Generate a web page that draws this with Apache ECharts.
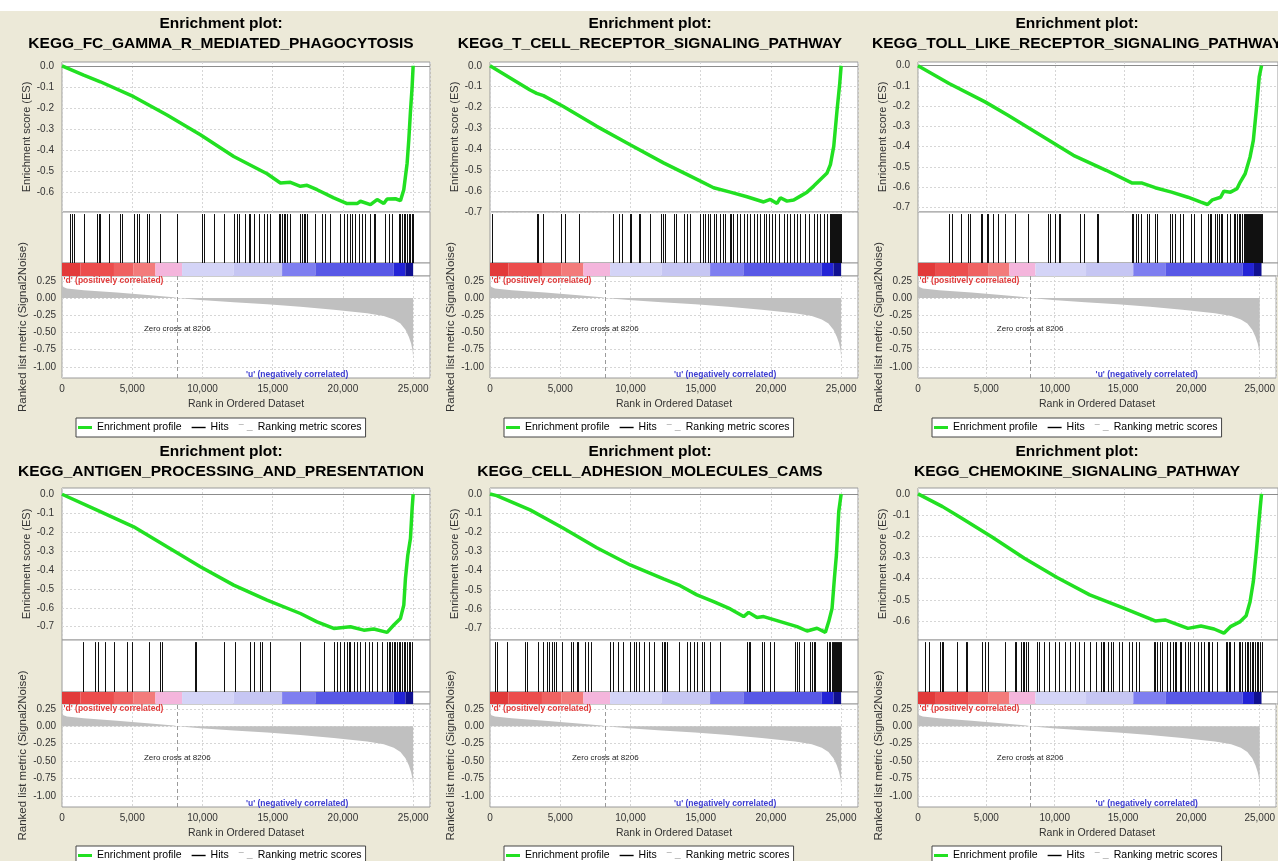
<!DOCTYPE html>
<html>
<head>
<meta charset="utf-8">
<script src="https://cdn.jsdelivr.net/npm/echarts@6/dist/echarts.min.js"></script>
<style>
html, body { margin: 0; padding: 0; background: #ece9d8; }
#main { width: 1278px; height: 861px; }
</style>
</head>
<body>
<div id="main"></div>
<script>
// gene set names, one per panel
var pathways = [
    'KEGG_FC_GAMMA_R_MEDIATED_PHAGOCYTOSIS',
    'KEGG_T_CELL_RECEPTOR_SIGNALING_PATHWAY',
    'KEGG_TOLL_LIKE_RECEPTOR_SIGNALING_PATHWAY',
    'KEGG_ANTIGEN_PROCESSING_AND_PRESENTATION',
    'KEGG_CELL_ADHESION_MOLECULES_CAMS',
    'KEGG_CHEMOKINE_SIGNALING_PATHWAY'
];

// ranked list metric (same ranked list for all panels)
var rankMetric = [[0,0.19],[100,0.16],[356,0.14],[1543,0.115],[3917,0.08],[6291,0.04],[7953,0.01],[8206,0],
    [9852,-0.03],[12226,-0.06],[14600,-0.09],[16974,-0.125],[19348,-0.17],[21722,-0.22],[22909,-0.26],
    [23622,-0.31],[24096,-0.37],[24452,-0.46],[24690,-0.56],[24856,-0.66],[24960,-0.76],[25000,-0.86]];
var zeroCross = 8206;

// colour bar blocks under the hits
var barEdges = [0, 1300, 3700, 5100, 6650, 8550, 12230, 15670, 18040, 23620, 24450, 25000];
var barColors = ['#e23a3a', '#ec4d4d', '#ef6262', '#f37b7b', '#f4b5dc', '#d4d4f7', '#c6c6f3', '#7e7ef0', '#5858e6', '#2323d6', '#101090'];

// enrichment score curves [rank, ES]
var es1 = [[0,0],[1543,-0.044],[2730,-0.076],[5104,-0.147],[7478,-0.234],[9852,-0.328],[12226,-0.431],[14600,-0.513],
    [15550,-0.557],[16262,-0.554],[16974,-0.573],[17449,-0.568],[18161,-0.589],[19348,-0.628],[20298,-0.655],[21010,-0.655],
    [21247,-0.644],[21960,-0.66],[22434,-0.636],[22909,-0.655],[23146,-0.633],[23740,-0.632],[24096,-0.641],[24334,-0.589],
    [24571,-0.463],[24690,-0.352],[24808,-0.218],[24927,-0.1],[25000,0]];
var es2 = [[0,0],[2851,-0.116],[3326,-0.132],[3802,-0.143],[5227,-0.195],[7603,-0.29],[9979,-0.378],[12355,-0.465],
    [14731,-0.544],[15920,-0.584],[17107,-0.605],[18295,-0.627],[19483,-0.652],[19958,-0.64],[20434,-0.659],[20672,-0.632],
    [21146,-0.648],[21622,-0.643],[22097,-0.624],[22572,-0.605],[23047,-0.576],[23522,-0.544],[23998,-0.513],[24235,-0.473],
    [24473,-0.386],[24710,-0.211],[24900,-0.084],[25000,0]];
var es3 = [[0,0],[2262,-0.088],[4881,-0.179],[6548,-0.245],[8929,-0.344],[11310,-0.443],[13691,-0.517],[15595,-0.58],
    [16310,-0.58],[17262,-0.603],[18453,-0.625],[19643,-0.65],[20595,-0.674],[21072,-0.686],[21429,-0.663],[22024,-0.65],
    [22262,-0.62],[22738,-0.625],[23214,-0.608],[23453,-0.575],[23810,-0.534],[24167,-0.451],[24405,-0.369],[24643,-0.203],
    [24833,-0.055],[25000,0]];
var es4 = [[0,0],[2493,-0.084],[5104,-0.172],[7478,-0.278],[9852,-0.383],[12226,-0.48],[14600,-0.559],[16974,-0.63],
    [18161,-0.674],[19348,-0.709],[20535,-0.7],[21485,-0.718],[22197,-0.712],[23146,-0.73],[23622,-0.691],[24096,-0.656],
    [24334,-0.586],[24452,-0.445],[24618,-0.322],[24808,-0.234],[24927,-0.076],[25000,0]];
var es5 = [[0,0],[475,-0.009],[2851,-0.083],[5227,-0.179],[7603,-0.28],[9979,-0.37],[12355,-0.443],[13543,-0.478],
    [14731,-0.526],[15920,-0.561],[17107,-0.599],[18058,-0.639],[18414,-0.617],[19008,-0.644],[19483,-0.639],[20672,-0.665],
    [21859,-0.691],[22572,-0.714],[23285,-0.7],[23879,-0.721],[24116,-0.665],[24354,-0.596],[24521,-0.439],[24663,-0.318],
    [24829,-0.092],[25000,0]];
var es6 = [[0,0],[1786,-0.06],[2976,-0.107],[5357,-0.202],[7738,-0.304],[10119,-0.395],[12500,-0.477],[14881,-0.537],
    [17262,-0.6],[17976,-0.595],[19643,-0.635],[20595,-0.624],[21548,-0.638],[22262,-0.658],[22738,-0.627],[23453,-0.603],
    [23881,-0.575],[24167,-0.509],[24405,-0.414],[24643,-0.257],[24833,-0.115],[25000,0]];

// hit positions (rank of each gene of the set)
var hits1 = [594,712,831,1543,2493,2611,2730,3324,4155,4273,5104,5342,5460,6054,6172,7003,8190,9971,10090,10802,11514,
    12226,12464,12582,13057,13294,13413,13651,14007,14363,14600,14838,15431,15550,15669,15787,15906,16025,16262,16974,
    17093,17212,17330,17449,18042,18517,18755,19111,19823,20060,20298,20535,20654,20891,21129,21366,21603,21960,22197,
    22316,23028,23265,23503,23977,24096,24215,24334,24452,24571,24690,24808,24927,25000];
var hits2 = [119,3326,3445,3802,5037,5346,6344,8744,9219,9385,9932,10050,10573,10692,11357,12165,12308,12427,13068,13258,
    13828,14018,14256,14969,15159,15325,15492,15682,15920,16109,16394,16584,16751,17060,17178,17297,17582,17820,18058,
    18295,18533,18770,19008,19246,19483,19673,19840,20077,20315,20552,20909,21146,21384,21622,21859,22097,22453,22691,
    23047,23285,23522,23760,23998,24235,24300,24380,24450,24520,24590,24660,24730,24800,24870,24940,25000];
var hits3 = [2262,2500,3095,3643,3810,4595,4690,5000,5119,5476,5786,6357,7024,7976,9453,9595,10000,10238,10357,11786,
    12072,13024,13096,15548,15643,15833,16024,16262,16667,16786,17214,17381,18333,18453,18691,19048,19286,19881,20119,
    20595,21119,21262,21357,21595,21786,21905,22024,22143,22500,22738,22976,23095,23214,23333,23453,23572,23691,23810,
    23880,23950,24020,24100,24170,24240,24310,24380,24450,24520,24590,24660,24730,24800,24870,24940,25000];
var hits4 = [1496,2374,2540,3086,3680,4629,4985,6172,7003,7122,9496,9567,11514,12345,13366,13651,14125,14244,14838,16974,
    18636,19348,19586,19823,20060,20298,20416,20535,20773,21010,21247,21603,21841,22078,22434,22790,23146,23265,23384,
    23503,23622,23740,23859,23977,24096,24215,24334,24452,24571,24690,24808,24927];
var hits5 = [356,475,1236,2495,2614,3445,3802,4039,4229,4396,4562,4704,5108,5750,5940,6178,6296,6772,7009,7176,8554,8744,
    9148,9456,9979,10217,10407,10573,10930,11286,11690,12236,12355,12474,12593,13424,14018,14208,14494,14731,15088,15254,
    15682,16394,18295,18414,18533,19364,19483,19958,20196,21740,21859,21978,22334,22810,22928,23047,23166,23998,24116,
    24235,24354,24420,24490,24560,24630,24700,24770,24840,24910,24980];
var hits6 = [476,833,1619,1738,1833,2857,3500,3571,4643,4881,5119,6357,7024,7143,7500,7619,7738,7857,7976,8690,8810,9167,
    9524,10000,10238,10714,11071,11429,11738,12072,12500,12929,13333,13452,13571,13810,14048,14214,14643,14881,15357,
    15595,15833,16071,17143,17262,17381,17619,17738,18095,18333,18571,18691,18810,19048,19167,19405,19643,19762,20119,
    20357,20595,20786,21072,21191,21429,21786,22381,22500,22619,22738,22976,23333,23453,23572,23810,23929,24048,24167,
    24286,24405,24524,24643,24762,24881,25000];

// axis ranges and tick labels
var esMax = [0.018, 0.018, 0.018, 0.033, 0.031, 0.028];
var esMin = [-0.695, -0.70, -0.723, -0.77, -0.761, -0.69];
var esTicks6 = [0, -0.1, -0.2, -0.3, -0.4, -0.5, -0.6];
var esTicks7 = [0, -0.1, -0.2, -0.3, -0.4, -0.5, -0.6, -0.7];
var esTicks = [esTicks6, esTicks7, esTicks7, esTicks7, esTicks7, esTicks6];
var metricTicks = [0.25, 0, -0.25, -0.5, -0.75, -1.0];
var metricMin = -1.16, metricMax = 0.32;
var rankMax = 26200;

var esCurves = [es1, es2, es3, es4, es5, es6];
var hitSets = [hits1, hits2, hits3, hits4, hits5, hits6];

// layout
var FONT = 'Liberation Sans, Arial, Helvetica, sans-serif';
var colLeft = [62, 490, 918];
var plotW = 368;
var titleX = [221, 650, 1077];
var legendX = [76, 504, 932];
var rows = [
    {es: 62, esH: 150, hits: 212, hitsH: 51, bar: 263, barH: 13, met: 276, metH: 102, title: 14, legend: 418},
    {es: 488, esH: 152, hits: 640, hitsH: 52, bar: 692, barH: 12, met: 704, metH: 103, title: 442, legend: 846}
];

var myChart = echarts.init(document.getElementById('main'));

var grids = [], xAxes = [], yAxes = [], series = [], titles = [], legends = [];

for (var p = 0; p < 6; p++) {
    var r = Math.floor(p / 3), c = p % 3, L = rows[r];
    var gi = grids.length;
    var boxes = [[L.es, L.esH], [L.hits, L.hitsH], [L.bar, L.barH], [L.met, L.metH]];
    boxes.forEach(function (b) {
        grids.push({
            left: colLeft[c], top: b[0], width: plotW, height: b[1],
            show: true, backgroundColor: '#fff', borderColor: '#9a9a9a', borderWidth: 1
        });
    });

    for (var k = 0; k < 4; k++) {
        var isMet = k === 3;
        xAxes.push({
            type: 'value', gridIndex: gi + k, min: 0, max: rankMax, interval: 5000,
            axisLine: {show: false}, axisTick: {show: false},
            axisLabel: {
                show: isMet, showMaxLabel: false, fontSize: 10, color: '#333', margin: 6, fontFamily: FONT,
                formatter: function (v) { return v.toLocaleString('en-US'); }
            },
            splitLine: {show: k === 0 || k === 3, lineStyle: {color: '#d6d6d6', type: [2, 2]}},
            name: isMet ? 'Rank in Ordered Dataset' : '',
            nameLocation: 'middle', nameGap: 21,
            nameTextStyle: {fontSize: 10.5, color: '#333', fontFamily: FONT}
        });
    }

    // ES axis
    yAxes.push({
        type: 'value', gridIndex: gi, min: esMin[p], max: esMax[p],
        axisLine: {show: false},
        axisTick: {show: false, customValues: esTicks[p]},
        axisLabel: {
            customValues: esTicks[p], fontSize: 10, color: '#333', margin: 8, fontFamily: FONT,
            formatter: function (v) { return v.toFixed(1); }
        },
        splitLine: {show: true, lineStyle: {color: '#d6d6d6', type: [2, 2]}},
        name: 'Enrichment score (ES)', nameLocation: 'middle', nameGap: 23,
        nameTextStyle: {fontSize: 11, color: '#333', fontFamily: FONT}
    });
    // hits axis and colour bar axis
    for (var h = 0; h < 2; h++) {
        yAxes.push({
            type: 'value', gridIndex: gi + 1 + h, min: 0, max: 1,
            axisLine: {show: false}, axisTick: {show: false}, axisLabel: {show: false}, splitLine: {show: false}
        });
    }
    // ranked metric axis
    yAxes.push({
        type: 'value', gridIndex: gi + 3, min: metricMin, max: metricMax,
        axisLine: {show: false},
        axisTick: {show: false, customValues: metricTicks},
        axisLabel: {
            customValues: metricTicks, fontSize: 10, color: '#333', margin: 6, fontFamily: FONT,
            formatter: function (v) { return v.toFixed(2); }
        },
        splitLine: {show: true, lineStyle: {color: '#d6d6d6', type: [2, 2]}},
        name: 'Ranked list metric (Signal2Noise)', nameLocation: 'middle', nameGap: 28,
        nameTextStyle: {fontSize: 11.5, color: '#333', fontFamily: FONT}
    });

    series.push({
        name: 'Enrichment profile', type: 'line', xAxisIndex: gi, yAxisIndex: gi,
        data: esCurves[p], symbol: 'none', z: 5,
        lineStyle: {color: '#22e022', width: 3.5}, itemStyle: {color: '#22e022'},
        markLine: {
            silent: true, symbol: 'none', label: {show: false}, z: 1,
            lineStyle: {color: '#8c8c8c', type: 'solid', width: 1},
            data: [{yAxis: 0}]
        }
    });

    series.push({
        name: 'Hits', type: 'custom', xAxisIndex: gi + 1, yAxisIndex: gi + 1,
        itemStyle: {color: '#000'},
        data: hitSets[p].map(function (v) { return [v]; }),
        renderItem: function (params, api) {
            var x = Math.round(api.coord([api.value(0), 0])[0]) + 0.5;
            var y0 = api.coord([0, 0])[1];
            var y1 = api.coord([0, 0.96])[1];
            return {type: 'line', shape: {x1: x, y1: y0, x2: x, y2: y1}, style: {stroke: '#111', lineWidth: 1}};
        }
    });

    series.push({
        name: 'colour bar', type: 'custom', xAxisIndex: gi + 2, yAxisIndex: gi + 2,
        data: barColors.map(function (col, i) { return [barEdges[i], barEdges[i + 1], i]; }),
        renderItem: function (params, api) {
            var a = api.coord([api.value(0), 0]);
            var b = api.coord([api.value(1), 1]);
            return {
                type: 'rect',
                shape: {x: a[0], y: b[1], width: b[0] - a[0], height: a[1] - b[1]},
                style: {fill: barColors[api.value(2)]}
            };
        }
    });

    series.push({
        name: 'Ranking metric scores', type: 'line', xAxisIndex: gi + 3, yAxisIndex: gi + 3,
        data: rankMetric, symbol: 'none',
        lineStyle: {width: 0, color: '#c0c0c0'}, itemStyle: {color: '#c0c0c0'},
        areaStyle: {color: '#c0c0c0', opacity: 1},
        markLine: {
            silent: true, symbol: 'none', label: {show: false},
            lineStyle: {color: '#9a9a9a', type: [4, 3], width: 1},
            data: [{xAxis: zeroCross}]
        },
        markPoint: {
            silent: true, symbol: 'circle', symbolSize: 1, itemStyle: {color: 'rgba(0,0,0,0)'},
            data: [
                {coord: [0, 0.25], label: {show: true, position: 'right', distance: 1,
                    formatter: "'d' (positively correlated)", color: '#e03a3a', fontSize: 8.5, fontWeight: 'bold', fontFamily: FONT}},
                {coord: [16737, -1.11], label: {show: true, position: 'inside',
                    formatter: "'u' (negatively correlated)", color: '#3b3bd0', fontSize: 8.5, fontWeight: 'bold', fontFamily: FONT}},
                {coord: [zeroCross, -0.45], label: {show: true, position: 'inside',
                    formatter: 'Zero cross at ' + zeroCross, color: '#222', fontSize: 8, fontFamily: FONT}}
            ]
        }
    });

    titles.push({
        text: 'Enrichment plot:\n' + pathways[p],
        left: titleX[c], top: L.title, textAlign: 'center', padding: 0,
        textStyle: {fontSize: 15.5, fontWeight: 'bold', color: '#000', lineHeight: 20, fontFamily: FONT}
    });

    legends.push({
        left: legendX[c], top: L.legend, orient: 'horizontal',
        padding: [4, 4, 4, 2], itemGap: 10, itemWidth: 14, itemHeight: 7,
        backgroundColor: '#fff', borderColor: '#444', borderWidth: 1,
        selectedMode: false,
        textStyle: {fontSize: 10.5, color: '#000', fontFamily: FONT},
        data: [
            {name: 'Enrichment profile', icon: 'path://M0,0h14v3h-14z'},
            {name: 'Hits', icon: 'path://M0,0h14v1.4h-14z'},
            {name: 'Ranking metric scores', icon: 'path://M0,0h5v1h-5zM8,6h6v1h-6z'}
        ]
    });
}

var option = {
    backgroundColor: '#ece9d8',
    animation: false,
    title: titles,
    legend: legends,
    grid: grids,
    xAxis: xAxes,
    yAxis: yAxes,
    series: series,
    graphic: [{type: 'rect', shape: {x: 0, y: 0, width: 1278, height: 11}, style: {fill: '#fff'}, silent: true}]
};

myChart.setOption(option);
</script>
</body>
</html>
